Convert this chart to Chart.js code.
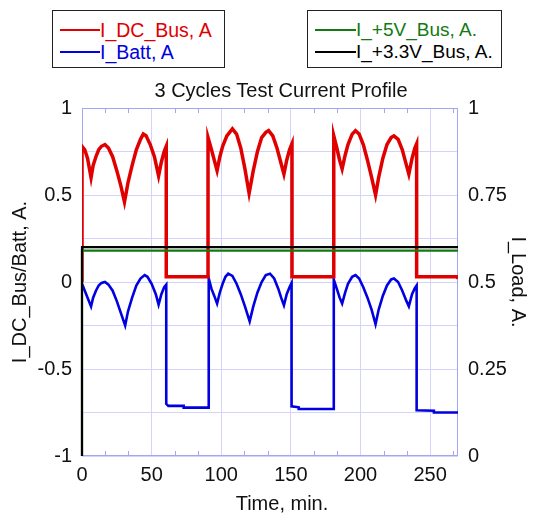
<!DOCTYPE html>
<html><head><meta charset="utf-8">
<script src="https://cdn.jsdelivr.net/npm/chart.js@4/dist/chart.umd.min.js"></script>
<style>
html,body{margin:0;padding:0;background:#fff;}
#wrap{position:relative;width:534px;height:517px;font-family:"Liberation Sans",Arial,sans-serif;overflow:hidden;}
#c{position:absolute;left:0;top:0;}
.box{position:absolute;box-sizing:border-box;border:1px solid #222;background:#fff;}
.row{position:absolute;white-space:nowrap;font-size:19.5px;line-height:22px;height:22px;}
.ln{position:absolute;height:2px;}
.txt{position:absolute;top:0;}
.ttl{position:absolute;left:0;text-align:center;font-size:20px;line-height:24px;color:#111;white-space:nowrap;}
</style></head>
<body>
<div id="wrap">
<canvas id="c" width="534" height="517"></canvas>
<div class="box" style="left:52px;top:10px;width:173px;height:58px;">
  <div class="row" style="left:0;top:8px;width:170px;"><div class="ln" style="left:7px;top:10px;width:40px;background:#e00000;"></div><span class="txt" style="left:47px;color:#e00000;">I_DC_Bus, A</span></div>
  <div class="row" style="left:0;top:30px;width:170px;"><div class="ln" style="left:7px;top:10px;width:40px;background:#0000e0;"></div><span class="txt" style="left:47px;color:#0000e0;">I_Batt, A</span></div>
</div>
<div class="box" style="left:307px;top:10px;width:195px;height:58px;">
  <div class="row" style="left:0;top:8px;width:192px;font-size:19px;"><div class="ln" style="left:7px;top:10px;width:41px;background:#127a12;"></div><span class="txt" style="left:48px;color:#127a12;">I_+5V_Bus, A.</span></div>
  <div class="row" style="left:0;top:30px;width:192px;font-size:19px;"><div class="ln" style="left:7px;top:10px;width:41px;background:#000;"></div><span class="txt" style="left:48px;color:#000;">I_+3.3V_Bus, A.</span></div>
</div>
<div class="ttl" style="top:78px;width:562px;">3 Cycles Test Current Profile</div>
<div class="ttl" style="top:491px;width:564px;">Time, min.</div>
</div>
<script>
// ---- data ----
const dcTime = [0,0,2,4,6.5,8,10,12,14,16.5,19,22,25,28,30.5,33,36,39,42,44,46,49,52,55,57,59,60.5,60.5,90.5,
  90.5,93,95,97,99,101,104,108,111,114,117,120,123,126,129,132,134,137,140,143,145,147,149,150.8,150.8,180.8,
  180.8,183,185,186.8,189,191,194,196.4,199,202,205,208,210.8,213,216,219,222,224,227,230,233,234.7,237,239,240.3,240.3,269,270];
const dcVal = [0,0.78,0.76,0.71,0.60,0.67,0.72,0.76,0.78,0.79,0.77,0.72,0.64,0.55,0.46,0.57,0.67,0.76,0.82,0.85,0.84,0.79,0.72,0.61,0.69,0.75,0.78,0.03,0.03,
  0.83,0.76,0.70,0.64,0.72,0.78,0.84,0.88,0.85,0.77,0.65,0.51,0.64,0.75,0.83,0.86,0.87,0.84,0.77,0.68,0.62,0.70,0.76,0.795,0.03,0.03,
  0.84,0.77,0.70,0.65,0.73,0.79,0.85,0.87,0.85,0.79,0.70,0.60,0.50,0.60,0.71,0.79,0.83,0.84,0.82,0.76,0.67,0.62,0.71,0.77,0.795,0.03,0.03,0.02];
const battTime = [0,2,4,6.5,8,10,12,14,16.5,19,22,25,28,31,33,36,39,42,45,47,50,53,55,57,59,60.5,60.5,62,73,73,91,
  91,93,95,97,99,101,103,105,108,111,114,117,120.4,123,126,129,132,135,138,141,143,145,147,149,150.5,150.5,155.6,155.6,180.8,
  180.8,183,185,186.8,189,191,194,196.4,199,202,205,208,210.8,213,216,219,222,224,227,230,233,234.7,237,239,240.3,240.3,252.7,252.7,270];
const battVal = [-0.01,-0.05,-0.09,-0.14,-0.09,-0.05,-0.02,-0.005,0.0,-0.015,-0.05,-0.11,-0.18,-0.25,-0.17,-0.09,-0.02,0.02,0.04,0.03,-0.01,-0.07,-0.13,-0.07,-0.03,-0.015,-0.70,-0.712,-0.712,-0.722,-0.722,
  0.02,-0.04,-0.08,-0.124,-0.06,-0.01,0.03,0.048,0.035,-0.01,-0.07,-0.14,-0.226,-0.14,-0.06,0.0,0.04,0.048,0.02,-0.04,-0.09,-0.134,-0.07,-0.03,-0.005,-0.715,-0.72,-0.73,-0.73,
  0.014,-0.04,-0.09,-0.124,-0.06,-0.01,0.03,0.04,0.02,-0.03,-0.09,-0.16,-0.243,-0.16,-0.08,-0.02,0.015,0.02,0.0,-0.05,-0.11,-0.14,-0.07,-0.035,-0.02,-0.737,-0.74,-0.75,-0.75];
const busTime = [0,0,270];
const bus5Val = [0,0.59,0.59];
const bus33Val = [0,0.6,0.6];
const leftTickLabels = ['1','0.5','0','-0.5','-1'];
const rightTickLabels = ['1','0.75','0.5','0.25','0'];
const xTickLabels = ['0','50','100','150','200','250'];

const pts = (t, v) => t.map((x, i) => ({x: x, y: v[i]}));
const GRID = 'rgb(212,212,250)';
const FRAME = 'rgb(165,165,245)';
const FONT = {family: '"Liberation Sans", Arial, sans-serif', size: 20};

const frame = {
  id: 'frame',
  beforeDatasetsDraw(chart) {
    const {ctx, chartArea: a, scales: {x}} = chart;
    ctx.save();
    ctx.strokeStyle = FRAME; ctx.lineWidth = 1;
    ctx.strokeRect(a.left + 0.5, a.top + 0.5, a.right - a.left - 1, a.bottom - a.top - 1);
    for (let k = 1; k * 50 / 3 < x.max; k++) {
      if (k % 3 === 0) continue;
      const px = Math.round(x.getPixelForValue(k * 50 / 3)) + 0.5;
      ctx.beginPath();
      ctx.moveTo(px, a.top); ctx.lineTo(px, a.top + 5);
      ctx.moveTo(px, a.bottom); ctx.lineTo(px, a.bottom - 5);
      ctx.stroke();
    }
    ctx.restore();
  }
};

new Chart(document.getElementById('c'), {
  type: 'line',
  data: {
    datasets: [
      {label: 'I_+3.3V_Bus, A.', data: pts(busTime, bus33Val), yAxisID: 'y2', borderColor: '#000', borderWidth: 2.2, clip: false},
      {label: 'I_+5V_Bus, A.', data: pts(busTime, bus5Val), yAxisID: 'y2', borderColor: '#127a12', borderWidth: 2.2, clip: false},
      {label: 'I_DC_Bus, A', data: pts(dcTime, dcVal), yAxisID: 'y', borderColor: '#e00000', borderWidth: 3.5},
      {label: 'I_Batt, A', data: pts(battTime, battVal), yAxisID: 'y', borderColor: '#0000e0', borderWidth: 2.6}
    ]
  },
  options: {
    responsive: false, animation: false, devicePixelRatio: 1,
    layout: {padding: {top: 108, left: 0, right: 0, bottom: 0}},
    elements: {point: {radius: 0}, line: {tension: 0, fill: false}},
    plugins: {legend: {display: false}, tooltip: {enabled: false}},
    scales: {
      x: {
        type: 'linear', position: 'bottom', min: 0, max: 270,
        afterFit(s) { s.height = 61; },
        border: {display: false},
        grid: {color: GRID, drawTicks: false},
        ticks: {stepSize: 50, includeBounds: false, padding: 7, color: '#111', font: FONT, maxRotation: 0,
          callback: (v) => { const i = xTickLabels.indexOf(String(v)); return i >= 0 ? xTickLabels[i] : ''; }}
      },
      y: {
        type: 'linear', position: 'left', min: -1, max: 1,
        afterFit(s) { s.width = 82; },
        border: {display: false},
        grid: {color: GRID, drawTicks: false},
        ticks: {stepSize: 0.25, padding: 10, color: '#111', font: FONT,
          callback: (v) => { const i = leftTickLabels.indexOf(String(v)); return i >= 0 ? leftTickLabels[i] : ''; }},
        title: {display: true, text: 'I_DC_Bus/Batt, A.', color: '#111', font: FONT, padding: {top: 8, bottom: 0}}
      },
      y2: {
        type: 'linear', position: 'right', min: 0, max: 1,
        afterFit(s) { s.width = 76; },
        border: {display: false},
        grid: {drawOnChartArea: false, drawTicks: false},
        ticks: {stepSize: 0.25, padding: 10, color: '#111', font: FONT,
          callback: (v) => { const i = rightTickLabels.indexOf(String(v)); return i >= 0 ? rightTickLabels[i] : ''; }},
        title: {display: true, text: 'I_Load, A.', color: '#111', font: FONT, padding: {top: 4, bottom: 0}}
      }
    }
  },
  plugins: [frame]
});
</script>
</body></html>
